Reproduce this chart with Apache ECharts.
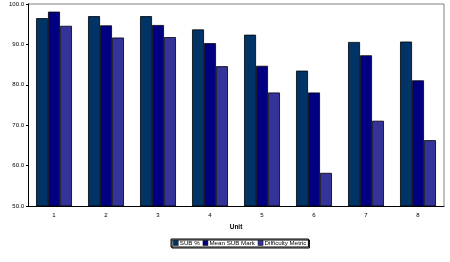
<!DOCTYPE html>
<html><head><meta charset="utf-8">
<script src="https://cdn.jsdelivr.net/npm/echarts@6/dist/echarts.min.js"></script>
<style>html,body{margin:0;padding:0;background:#fff}#c{width:450px;height:262px}</style>
</head><body><div id="c"></div>
<script>
const categories = ['1','2','3','4','5','6','7','8'];
const subPct = [96.5, 97.0, 97.0, 93.7, 92.4, 83.5, 90.6, 90.7];
const meanSubMark = [98.1, 94.7, 94.8, 90.3, 84.7, 78.1, 87.3, 81.1];
const difficulty = [94.6, 91.7, 91.8, 84.6, 78.1, 58.2, 71.1, 66.3];
const seriesNames = ['SUB %', 'Mean SUB Mark', 'Difficulty Metric'];
const colors = ['#003366', '#000080', '#333399'];

const chart = echarts.init(document.getElementById('c'), null, {renderer:'canvas'});
const font = 'Liberation Sans, Arial, sans-serif';
const mk = (name, data, color) => ({
  name, type:'bar', data, barGap:'0%', barCategoryGap:'31%',
  itemStyle:{color, borderColor:'#000', borderWidth:0.8}
});
chart.setOption({
  animation:false,
  grid:{left:28, right:6, top:4, bottom:56, containLabel:false, outerBoundsMode:'none'},
  legend:{
    data:seriesNames, bottom:15, left:171,
    itemWidth:5, itemHeight:5, itemGap:3,
    itemStyle:{borderWidth:0.5, borderColor:'#000'},
    textStyle:{fontSize:6.2, fontFamily:font, color:'#000', padding:[0,0,0,-3.5]},
    borderColor:'#000', borderWidth:1, padding:[1,2],
    shadowColor:'#000', shadowOffsetX:1, shadowOffsetY:1, shadowBlur:0,
    icon:'rect'
  },
  xAxis:{
    type:'category', data:categories, name:'Unit', nameLocation:'middle', nameGap:18,
    nameTextStyle:{fontSize:6.5, fontWeight:'bold', fontFamily:font, color:'#000'},
    axisLine:{lineStyle:{color:'#000', width:1}},
    axisTick:{show:false},
    axisLabel:{fontSize:6, fontFamily:font, color:'#000', margin:6}
  },
  yAxis:{
    type:'value', min:50, max:100, interval:10, name:'Percentage', nameLocation:'middle', nameGap:24,
    nameTextStyle:{fontSize:6.5, fontWeight:'bold', fontFamily:font, color:'#000'},
    axisLine:{show:true, lineStyle:{color:'#000', width:1}},
    axisTick:{show:true, length:2, lineStyle:{color:'#000'}},
    axisLabel:{fontSize:6, fontFamily:font, color:'#000', margin:4, formatter:v=>v.toFixed(1)},
    splitLine:{show:false}
  },
  graphic:[{
    type:'polyline', silent:true, z:-1,
    shape:{points:[[28,4],[444,4],[444,206]]},
    style:{stroke:'#808080', lineWidth:1, fill:null}
  }],
  series:[mk(seriesNames[0], subPct, colors[0]), mk(seriesNames[1], meanSubMark, colors[1]), mk(seriesNames[2], difficulty, colors[2])]
});
</script></body></html>
